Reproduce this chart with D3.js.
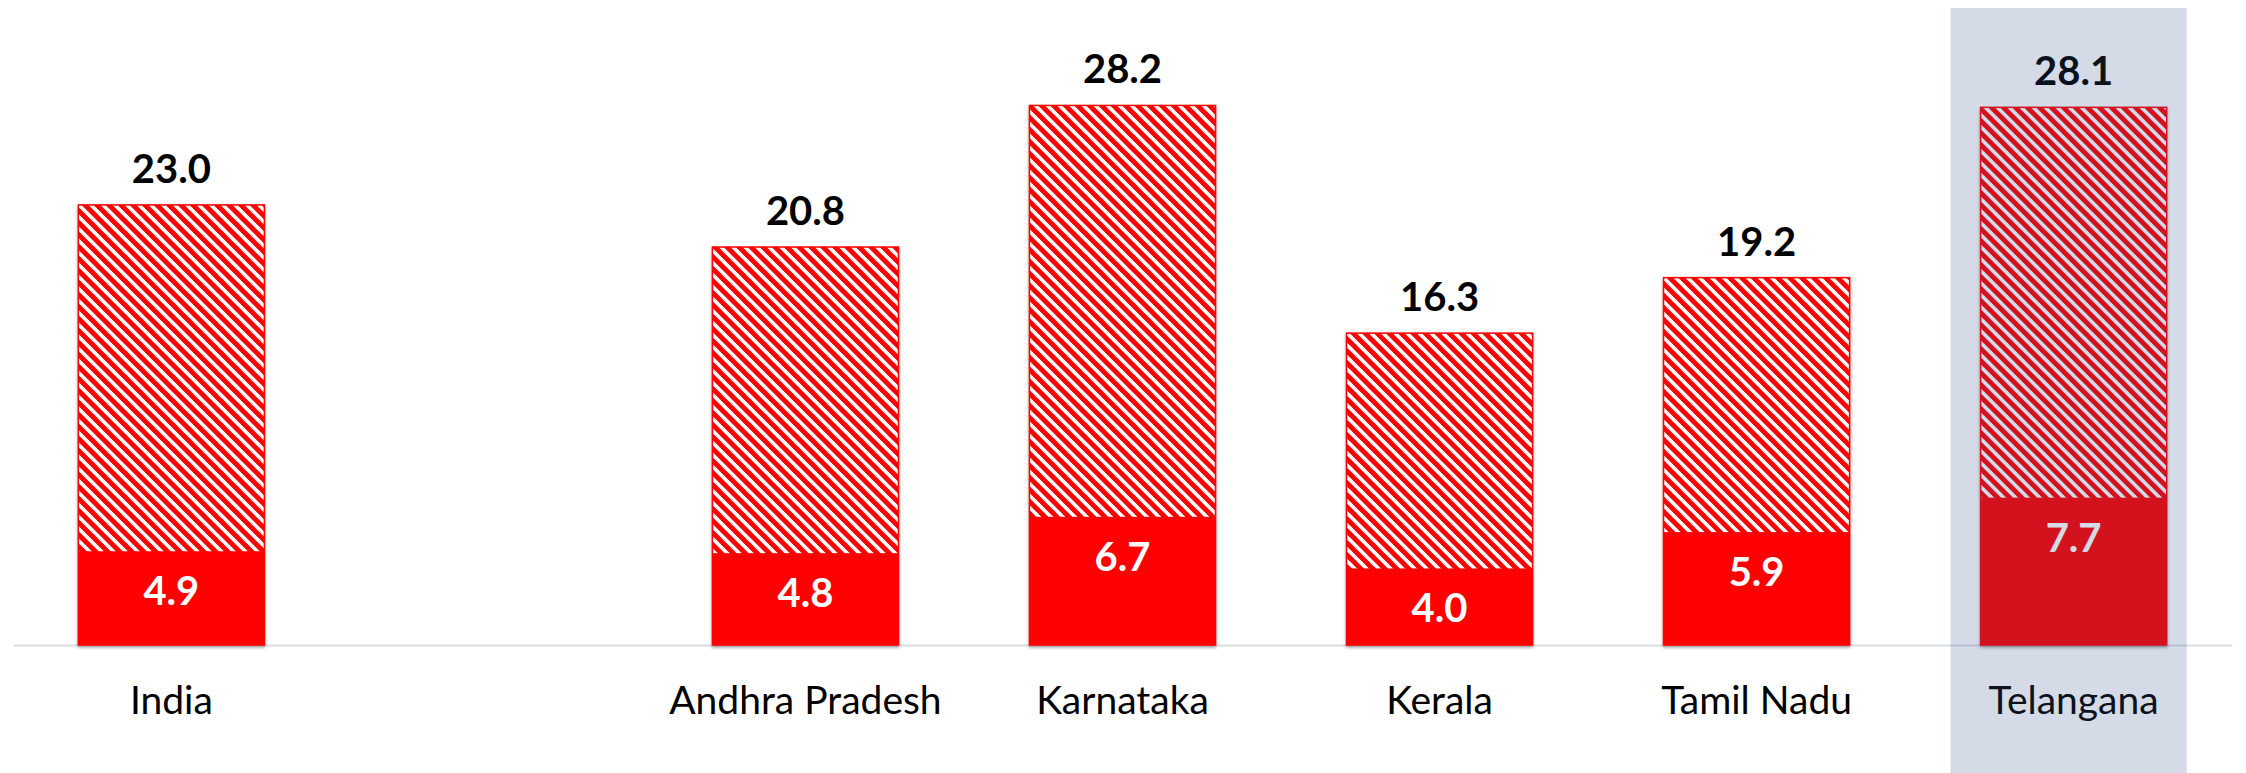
<!DOCTYPE html>
<html>
<head>
<meta charset="utf-8">
<script src="https://cdn.jsdelivr.net/npm/d3@7"></script>
<style>
  body { margin: 0; background: #fff; }
  svg { display: block; font-family: Lato, "Open Sans", sans-serif; }
</style>
</head>
<body>
<script>
// data
var slots = ["India", "gap", "Andhra Pradesh", "Karnataka", "Kerala", "Tamil Nadu", "Telangana"];
var states = ["India", "Andhra Pradesh", "Karnataka", "Kerala", "Tamil Nadu", "Telangana"];
var totals = [23.0, 20.8, 28.2, 16.3, 19.2, 28.1];
var solid = [4.9, 4.8, 6.7, 4.0, 5.9, 7.7];
var highlight = "Telangana";

var width = 2246;
var height = 773;
var base = 645;

var x = d3.scaleBand().domain(slots).range([13, 2232]).paddingInner(0.413).paddingOuter(0.206);
var y = d3.scaleLinear().domain([0, 30]).range([base, 71]);

var rows = states.map(function(s, i) {
    return {name: s, total: totals[i], solid: solid[i]};
});

var svg = d3.select("body")
    .append("svg")
    .attr("width", width)
    .attr("height", height);

var defs = svg.append("defs");
var pat = defs.append("pattern")
    .attr("id", "hatch")
    .attr("patternUnits", "userSpaceOnUse")
    .attr("width", 12)
    .attr("height", 12);
pat.append("rect").attr("width", 12).attr("height", 12).attr("fill", "#fff");
pat.append("path")
    .attr("d", "M-3,-3 L15,15 M-3,9 L3,15 M9,-3 L15,3")
    .attr("stroke", "#ff0000")
    .attr("stroke-width", 4.8);

var shadow = defs.append("filter").attr("id", "shadow")
    .attr("x", "-5%").attr("y", "-5%").attr("width", "110%").attr("height", "110%");
shadow.append("feDropShadow")
    .attr("dx", 0).attr("dy", 2).attr("stdDeviation", 1.5)
    .attr("flood-color", "#000").attr("flood-opacity", 0.35);

// axis line + category labels
var axis = d3.axisBottom(x)
    .tickSize(0)
    .tickSizeOuter(0)
    .tickFormat(function(d) { return d == "gap" ? "" : d; });

var gx = svg.append("g")
    .attr("transform", "translate(0," + base + ")")
    .call(axis);
gx.select(".domain").attr("stroke", "#d9dde3").attr("stroke-width", 2);
gx.selectAll("text")
    .attr("y", 69)
    .attr("dy", 0)
    .attr("font-family", "Lato, sans-serif")
    .attr("font-size", 39)
    .attr("fill", "#000");

var bars = svg.selectAll(".bar")
    .data(rows)
    .enter()
    .append("g")
    .attr("class", "bar");

// whole bar hatched
bars.append("rect")
    .attr("x", function(d) { return x(d.name); })
    .attr("y", function(d) { return y(d.total); })
    .attr("width", x.bandwidth())
    .attr("height", function(d) { return y(0) - y(d.total); })
    .attr("fill", "url(#hatch)")
    .attr("stroke", "#ff0000")
    .attr("stroke-width", 1.5)
    .attr("filter", "url(#shadow)");

// solid part
bars.append("rect")
    .attr("x", function(d) { return x(d.name); })
    .attr("y", function(d) { return y(d.solid); })
    .attr("width", x.bandwidth())
    .attr("height", function(d) { return y(0) - y(d.solid); })
    .attr("fill", "#ff0000");

bars.append("text")
    .attr("x", function(d) { return x(d.name) + x.bandwidth() / 2; })
    .attr("y", function(d) { return y(d.total) - 22; })
    .attr("text-anchor", "middle")
    .attr("font-weight", "bold")
    .attr("font-size", 40)
    .attr("fill", "#000")
    .text(function(d) { return d.total.toFixed(1); });

bars.append("text")
    .attr("x", function(d) { return x(d.name) + x.bandwidth() / 2; })
    .attr("y", function(d) { return y(d.solid) + 54; })
    .attr("text-anchor", "middle")
    .attr("font-weight", "bold")
    .attr("font-size", 40)
    .attr("fill", "#fff")
    .text(function(d) { return d.solid.toFixed(1); });

// highlight column over Telangana
svg.append("rect")
    .attr("x", x(highlight) - 30)
    .attr("y", 8)
    .attr("width", x.bandwidth() + 50)
    .attr("height", height - 8)
    .attr("fill", "rgb(53,86,144)")
    .attr("opacity", 0.21);
</script>
</body>
</html>
